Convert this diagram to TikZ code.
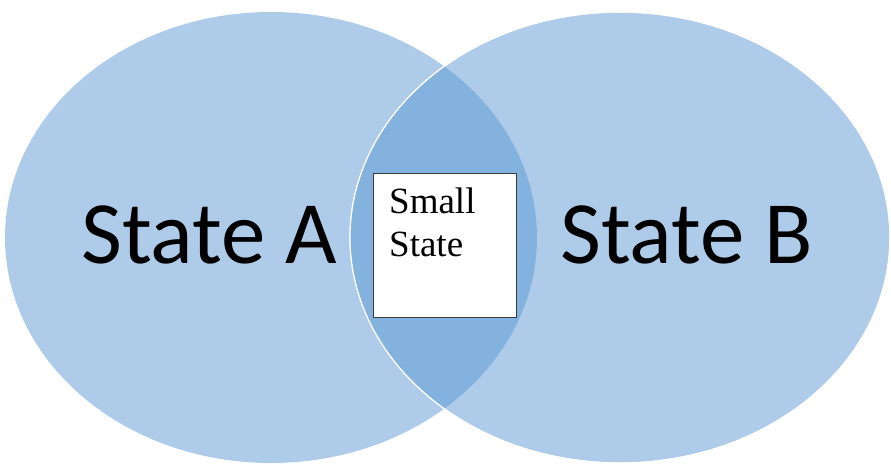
\documentclass[tikz,border=0pt]{standalone}
\usepackage{fontspec}
\setmainfont{Liberation Serif}
\newfontfamily\calib{Carlito}
\usetikzlibrary{shapes.geometric}
\definecolor{lightblue}{RGB}{174,204,234}
\definecolor{midblue}{RGB}{132,178,222}
\definecolor{boxgray}{RGB}{60,60,60}
\tikzset{
  setellipse/.style={ellipse, inner sep=0pt, minimum width=#1, minimum height=451pt, fill=lightblue, draw=white, line width=1.2pt},
  biglabel/.style={font=\calib\fontsize{89}{92}\selectfont, anchor=base west, inner sep=0pt, text=black},
  smallbox/.style={draw=boxgray, line width=0.9pt, fill=white, minimum width=143pt, minimum height=144pt, inner sep=0pt},
  smalltext/.style={font=\fontsize{37}{43}\selectfont, anchor=base west, inner sep=0pt, align=left}
}
\begin{document}
\begin{tikzpicture}[x=1pt,y=-1pt]
  \useasboundingbox (0,0) rectangle (891,464);
  \node[setellipse=532pt, draw=none] (A) at (271,237.5) {};
  \node[setellipse=540pt] (B) at (620,237.5) {};
  \begin{scope}
    \clip (271,237.5) ellipse (266 and 225.5);
    \fill[midblue] (620,237.5) ellipse (270 and 225.5);
  \end{scope}
  \draw[white, line width=1.2pt] (620,237.5) ellipse (270 and 225.5);
  \node[biglabel] (la) at (81,263) {State A};
  \node[biglabel] (lb) at (560,263) {State B};
  \node[smallbox] (s) at (444.5,245) {};
  \node[smalltext] (st) at (389,256) {Small\\State};
\end{tikzpicture}
\end{document}
